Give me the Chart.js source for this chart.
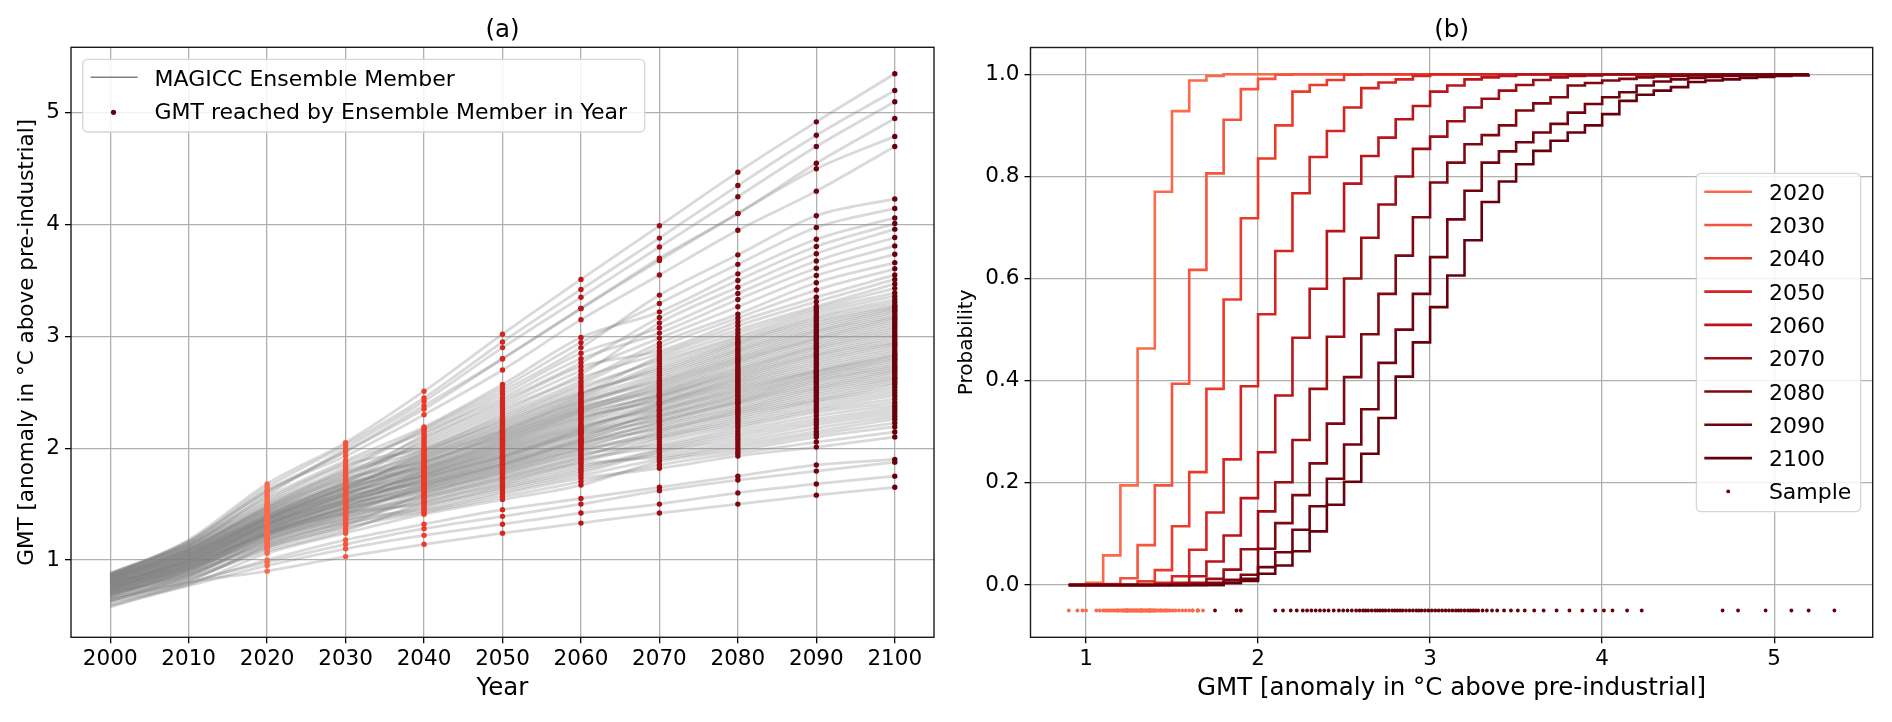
<!DOCTYPE html>
<html><head><meta charset="utf-8">
<script src="https://cdn.jsdelivr.net/npm/chart.js@4.4.1/dist/chart.umd.min.js"></script>
<style>
html,body{margin:0;padding:0;background:#fff;}
#wrap{position:relative;width:1892px;height:722px;overflow:hidden;}
canvas{position:absolute;top:0;}
#ca{left:0;} #cb{left:946px;}
</style></head><body>
<div id="wrap"><canvas id="ca" width="946" height="722"></canvas><canvas id="cb" width="946" height="722"></canvas></div>
<script>
// ---------------- data ----------------
const YEARS = [2000,2010,2020,2030,2040,2050,2060,2070,2080,2090,2100];
const DOT_YEARS = [2020,2030,2040,2050,2060,2070,2080,2090,2100];
const YEAR_TICKS = [2000,2010,2020,2030,2040,2050,2060,2070,2080,2090,2100];
const GMT_TICKS_A = [1,2,3,4,5];
const GMT_TICKS_B = [1,2,3,4,5];
const PROB_TICKS = [0,0.2,0.4,0.6,0.8,1.0];
const SAMPLE_Y = -0.05;

// ensemble members: GMT at YEARS
const MEMBER_GMT = [
  [0.64,0.80,0.90,1.03,1.14,1.24,1.33,1.42,1.50,1.58,1.65],
  [0.70,0.88,1.14,1.33,1.44,1.59,1.73,1.82,1.93,2.01,2.10],
  [0.62,0.78,1.06,1.24,1.41,1.54,1.67,1.88,1.98,2.10,2.19],
  [0.73,0.92,1.19,1.39,1.52,1.69,1.86,1.92,2.03,2.15,2.26],
  [0.66,0.83,1.10,1.28,1.47,1.63,1.78,1.96,2.08,2.21,2.31],
  [0.68,0.90,1.22,1.42,1.50,1.66,1.82,1.99,2.13,2.26,2.36],
  [0.71,0.86,1.12,1.31,1.59,1.77,1.95,2.03,2.18,2.32,2.41],
  [0.65,0.87,1.16,1.35,1.55,1.72,1.89,2.08,2.22,2.36,2.47],
  [0.76,0.95,1.24,1.46,1.61,1.79,1.98,2.11,2.26,2.41,2.52],
  [0.69,0.89,1.18,1.37,1.57,1.74,1.92,2.14,2.30,2.44,2.57],
  [0.72,0.91,1.21,1.41,1.66,1.85,2.05,2.17,2.33,2.48,2.61],
  [0.74,0.96,1.27,1.50,1.63,1.81,2.00,2.20,2.36,2.52,2.64],
  [0.70,0.93,1.23,1.43,1.64,1.83,2.03,2.23,2.40,2.55,2.68],
  [0.78,0.99,1.30,1.53,1.70,1.90,2.12,2.25,2.42,2.59,2.71],
  [0.67,0.92,1.24,1.45,1.67,1.86,2.07,2.28,2.45,2.62,2.74],
  [0.75,0.95,1.25,1.47,1.72,1.92,2.14,2.30,2.48,2.65,2.78],
  [0.77,1.01,1.32,1.57,1.69,1.88,2.09,2.33,2.51,2.68,2.81],
  [0.72,0.94,1.26,1.48,1.76,1.97,2.20,2.35,2.54,2.70,2.84],
  [0.79,0.98,1.28,1.51,1.73,1.93,2.16,2.38,2.57,2.74,2.88],
  [0.74,1.00,1.35,1.60,1.75,1.95,2.18,2.40,2.60,2.78,2.92],
  [0.80,0.99,1.29,1.52,1.80,2.03,2.28,2.42,2.63,2.82,2.95],
  [0.76,0.97,1.31,1.54,1.77,1.99,2.23,2.45,2.66,2.85,2.99],
  [0.81,1.04,1.37,1.64,1.82,2.05,2.31,2.47,2.69,2.89,3.03],
  [0.73,0.98,1.32,1.55,1.79,2.01,2.26,2.49,2.72,2.92,3.07],
  [0.78,1.02,1.33,1.58,1.87,2.11,2.37,2.52,2.76,2.96,3.11],
  [0.84,1.07,1.40,1.68,1.83,2.07,2.33,2.55,2.79,2.99,3.15],
  [0.75,1.01,1.34,1.59,1.85,2.09,2.35,2.58,2.82,3.03,3.18],
  [0.80,1.03,1.36,1.61,1.90,2.15,2.42,2.61,2.86,3.06,3.22],
  [0.86,1.09,1.44,1.73,1.88,2.13,2.40,2.65,2.89,3.10,3.25],
  [0.77,1.02,1.37,1.63,1.96,2.23,2.50,2.69,2.93,3.14,3.28],
  [0.82,1.05,1.38,1.65,1.92,2.17,2.45,2.73,2.96,3.18,3.33],
  [0.85,1.10,1.47,1.78,1.98,2.26,2.55,2.78,3.00,3.23,3.39],
  [0.79,1.04,1.39,1.66,1.94,2.20,2.48,2.82,3.06,3.27,3.47],
  [0.83,1.06,1.41,1.69,2.08,2.40,2.73,2.87,3.13,3.35,3.55],
  [0.87,1.13,1.52,1.85,2.00,2.30,2.60,2.94,3.20,3.48,3.66],
  [0.81,1.08,1.43,1.71,2.12,2.45,2.80,3.03,3.33,3.61,3.81],
  [0.84,1.10,1.46,1.76,2.04,2.35,2.66,3.12,3.44,3.74,3.96],
  [0.88,1.15,1.56,1.89,2.19,2.57,2.99,3.22,3.56,3.87,4.06],
  [0.82,1.09,1.49,1.81,2.16,2.51,2.90,3.37,3.73,4.08,4.23],
  [0.86,1.18,1.68,2.05,2.51,3.02,3.51,3.99,4.47,4.92,5.35],
  [0.85,1.14,1.60,1.97,2.38,2.80,3.25,3.70,4.10,4.55,4.95],
  [0.83,1.12,1.58,2.00,2.42,2.90,3.35,3.80,4.25,4.70,5.10],
  [0.87,1.16,1.62,1.93,2.30,2.70,3.15,3.55,3.95,4.30,4.70],
  [0.88,1.17,1.65,2.03,2.45,2.95,3.42,3.88,4.35,4.80,5.20],
  [0.59,0.77,0.95,1.10,1.22,1.32,1.42,1.50,1.60,1.68,1.75],
  [0.58,0.79,1.00,1.18,1.32,1.45,1.55,1.65,1.75,1.85,1.90],
  [0.60,0.80,0.98,1.14,1.28,1.39,1.50,1.62,1.715,1.795,1.875],
  [0.66,0.82,1.11,1.295,1.425,1.565,1.70,1.85,1.955,2.055,2.145],
  [0.63,0.86,1.17,1.36,1.455,1.61,1.755,1.90,2.005,2.125,2.225],
  [0.69,0.84,1.08,1.26,1.51,1.675,1.84,1.94,2.055,2.18,2.285],
  [0.64,0.81,1.13,1.32,1.485,1.645,1.80,1.975,2.105,2.235,2.335],
  [0.71,0.90,1.215,1.415,1.56,1.73,1.905,2.01,2.155,2.29,2.385],
  [0.67,0.87,1.15,1.34,1.535,1.705,1.875,2.055,2.20,2.34,2.44],
  [0.63,0.85,1.185,1.38,1.58,1.755,1.935,2.095,2.24,2.385,2.495],
  [0.73,0.93,1.24,1.455,1.62,1.80,1.99,2.125,2.28,2.425,2.545],
  [0.70,0.89,1.20,1.40,1.60,1.78,1.965,2.155,2.315,2.46,2.59],
  [0.68,0.91,1.225,1.425,1.635,1.82,2.015,2.185,2.345,2.50,2.625],
  [0.76,0.94,1.265,1.49,1.665,1.855,2.06,2.215,2.38,2.535,2.66],
  [0.72,0.92,1.235,1.44,1.65,1.84,2.04,2.24,2.41,2.57,2.695],
  [0.69,0.95,1.245,1.465,1.68,1.87,2.08,2.265,2.435,2.605,2.725],
  [0.78,0.97,1.295,1.525,1.71,1.91,2.13,2.29,2.465,2.635,2.76],
  [0.74,0.93,1.255,1.475,1.695,1.89,2.105,2.315,2.495,2.665,2.795],
  [0.71,0.96,1.275,1.505,1.725,1.925,2.15,2.34,2.525,2.69,2.825],
  [0.79,1.00,1.32,1.56,1.755,1.96,2.19,2.365,2.555,2.72,2.86],
  [0.75,0.96,1.285,1.515,1.74,1.94,2.17,2.39,2.585,2.76,2.90],
  [0.73,0.98,1.305,1.535,1.765,1.98,2.215,2.41,2.615,2.80,2.935],
  [0.80,1.03,1.345,1.595,1.795,2.02,2.27,2.435,2.645,2.835,2.97],
  [0.77,0.99,1.315,1.545,1.78,2.00,2.245,2.46,2.675,2.87,3.01],
  [0.74,1.00,1.325,1.575,1.81,2.04,2.295,2.48,2.705,2.905,3.05],
  [0.82,1.05,1.37,1.635,1.84,2.08,2.34,2.505,2.74,2.94,3.09],
  [0.78,1.01,1.335,1.585,1.825,2.06,2.32,2.535,2.775,2.975,3.13],
  [0.76,1.03,1.355,1.605,1.86,2.10,2.36,2.565,2.805,3.01,3.165],
  [0.84,1.07,1.395,1.67,1.89,2.14,2.41,2.595,2.84,3.045,3.20],
  [0.79,1.04,1.365,1.62,1.875,2.12,2.385,2.63,2.875,3.08,3.235],
  [0.81,1.05,1.375,1.645,1.91,2.16,2.435,2.67,2.91,3.12,3.265],
  [0.85,1.09,1.435,1.72,1.95,2.215,2.49,2.71,2.945,3.16,3.305],
  [0.80,1.06,1.385,1.655,1.93,2.185,2.465,2.755,2.98,3.205,3.36],
  [0.83,1.08,1.405,1.685,1.97,2.245,2.525,2.80,3.03,3.25,3.43],
  [0.86,1.12,1.48,1.795,2.02,2.325,2.63,2.845,3.095,3.31,3.51],
  [0.82,1.07,1.42,1.70,1.99,2.28,2.575,2.905,3.165,3.415,3.605],
  [0.84,1.10,1.45,1.745,2.06,2.375,2.695,2.985,3.265,3.545,3.735],
  [0.87,1.14,1.54,1.87,2.14,2.48,2.85,3.075,3.385,3.675,3.885],
  [0.85,1.11,1.465,1.77,2.10,2.425,2.765,3.17,3.50,3.805,4.01],
  [0.88,1.13,1.505,1.83,2.175,2.54,2.945,3.295,3.645,3.975,4.145],
  [0.86,1.16,1.62,1.97,2.35,2.80,3.25,3.68,4.10,4.50,4.79]
];

// empirical CDFs (panel b), evaluated on GMT_GRID
const GMT_GRID = [0.9,1.0,1.1,1.2,1.3,1.4,1.5,1.6,1.7,1.8,1.9,2.0,2.1,2.2,2.3,2.4,2.5,2.6,2.7,2.8,2.9,3.0,3.1,3.2,3.3,3.4,3.5,3.6,3.7,3.8,3.9,4.0,4.1,4.2,4.3,4.4,4.5,4.6,4.7,4.8,4.9,5.0,5.1,5.2];
const CDF_2020 = [0,0.004,0.058,0.195,0.463,0.770,0.928,0.988,0.997, 1,1,1,1,1, 1,1,1,1,1, 1,1,1,1,1, 1,1,1,1,1, 1,1,1,1,1, 1,1,1,1,1, 1,1,1,1,1];
const CDF_2030 = [0,0,0.002,0.013,0.078,0.195,0.394,0.617,0.806,0.911,0.971,0.991,0.999, 1,1,1,1,1, 1,1,1,1,1, 1,1,1,1,1, 1,1,1,1,1, 1,1,1,1,1, 1,1,1,1,1, 1];
const CDF_2040 = [0,0,0,0,0.007,0.029,0.115,0.221,0.384,0.559,0.718,0.835,0.900,0.966,0.979,0.989,0.999, 1,1,1,1,1, 1,1,1,1,1, 1,1,1,1,1, 1,1,1,1,1, 1,1,1,1,1, 1,1];
const CDF_2050 = [0,0,0,0,0,0.004,0.017,0.069,0.142,0.246,0.389,0.530,0.654,0.767,0.838,0.889,0.935,0.973,0.984,0.990,0.997, 1,1,1,1,1, 1,1,1,1,1, 1,1,1,1,1, 1,1,1,1,1, 1,1,1];
const CDF_2060 = [0,0,0,0,0,0,0.004,0.017,0.046,0.097,0.170,0.260,0.371,0.484,0.580,0.693,0.786,0.840,0.876,0.912,0.938,0.966,0.978,0.990,0.994,0.997, 1,1,1,1,1, 1,1,1,1,1, 1,1,1,1,1, 1,1,1];
const CDF_2070 = [0,0,0,0,0,0,0,0.004,0.012,0.030,0.070,0.144,0.201,0.284,0.384,0.486,0.600,0.680,0.745,0.800,0.854,0.878,0.908,0.935,0.952,0.968,0.979,0.989,0.994,0.997,0.998, 1,1,1,1,1, 1,1,1,1,1, 1,1,1];
const CDF_2080 = [0,0,0,0,0,0,0,0,0.004,0.010,0.020,0.071,0.121,0.176,0.238,0.316,0.407,0.491,0.570,0.645,0.720,0.788,0.827,0.863,0.881,0.900,0.929,0.943,0.955,0.978,0.983,0.988,0.991,0.994,0.996,0.997,0.998,0.999, 1,1,1,1,1,1];
const CDF_2090 = [0,0,0,0,0,0,0,0,0,0.004,0.012,0.035,0.064,0.108,0.154,0.208,0.275,0.344,0.435,0.500,0.570,0.642,0.716,0.772,0.827,0.849,0.867,0.886,0.903,0.925,0.942,0.955,0.965,0.978,0.986,0.990,0.993,0.995,0.997,0.998,0.999, 1,1,1];
const CDF_2100 = [0,0,0,0,0,0,0,0,0,0.004,0.008,0.022,0.038,0.066,0.105,0.157,0.202,0.257,0.327,0.408,0.475,0.544,0.606,0.675,0.750,0.790,0.824,0.850,0.870,0.886,0.900,0.922,0.948,0.960,0.968,0.975,0.985,0.988,0.990,0.993,0.995,0.997,0.998, 1];
const CDF_BY_YEAR = [CDF_2020,CDF_2030,CDF_2040,CDF_2050,CDF_2060,CDF_2070,CDF_2080,CDF_2090,CDF_2100];
const SAMPLE_YEARS = [2020, 2100];

const YEAR_COLORS = ['#fb6a4a','#f5533b','#ec3a2b','#d42520','#bb141a','#9c0d14','#7f0711','#70030f','#67000d'];
const LEGEND_A = ['MAGICC Ensemble Member','GMT reached by Ensemble Member in Year'];
const TITLES = ['(a)','(b)'];
const AXIS_TITLES = {ax:'Year', ay:'GMT [anomaly in °C above pre-industrial]', bx:'GMT [anomaly in °C above pre-industrial]', by:'Probability'};

// ---------------- helpers ----------------
const FAM = '"DejaVu Sans", sans-serif';
const font = s => ({family: FAM, size: s});
function roundBox(ctx, x, y, w, h, r){
  ctx.beginPath();
  ctx.moveTo(x+r,y); ctx.lineTo(x+w-r,y); ctx.arcTo(x+w,y,x+w,y+r,r);
  ctx.lineTo(x+w,y+h-r); ctx.arcTo(x+w,y+h,x+w-r,y+h,r);
  ctx.lineTo(x+r,y+h); ctx.arcTo(x,y+h,x,y+h-r,r);
  ctx.lineTo(x,y+r); ctx.arcTo(x,y,x+r,y,r); ctx.closePath();
}
function legendBox(ctx,x,y,w,h){
  roundBox(ctx,x,y,w,h,5);
  ctx.fillStyle='rgba(255,255,255,0.85)'; ctx.fill();
  ctx.strokeStyle='#d6d6d6'; ctx.lineWidth=1.3; ctx.stroke();
}
function decor(title, titleX, drawLegend){
  return {
    id:'decor',
    afterDatasetsDraw(chart){
      const {ctx, chartArea:a} = chart;
      ctx.save();
      ctx.strokeStyle='#1a1a1a'; ctx.lineWidth=1.4;
      ctx.strokeRect(a.left, a.top, a.right-a.left, a.bottom-a.top);
      drawLegend(ctx, chart);
      ctx.fillStyle='#000'; ctx.font='24.5px '+FAM; ctx.textAlign='center'; ctx.textBaseline='middle';
      ctx.fillText(title, titleX, 31);
      ctx.restore();
    }
  };
}
function xScale(min,max,ticks,fmt,title,h){
  return {
    type:'linear', min, max, bounds:'data',
    afterBuildTicks: s => { s.ticks = ticks.map(v=>({value:v})); },
    afterFit: s => { s.height = h; },
    ticks:{font:font(21.5), color:'#000', padding:3, maxRotation:0, autoSkip:false, callback: fmt},
    grid:{color:'#b0b0b0', lineWidth:1.3, tickColor:'#000', tickLength:6, tickWidth:1.3},
    border:{display:false},
    title:{display:true, text:title, color:'#000', font:font(24.5), padding:{top:0,bottom:18.6}}
  };
}
function yScale(min,max,ticks,fmt,title,w,fs,pt){
  return {
    type:'linear', min, max, bounds:'data',
    afterBuildTicks: s => { s.ticks = ticks.map(v=>({value:v})); },
    afterFit: s => { s.width = w; },
    ticks:{font:font(21.5), color:'#000', padding:5, autoSkip:false, callback: fmt},
    grid:{color:'#b0b0b0', lineWidth:1.3, tickColor:'#000', tickLength:6, tickWidth:1.3},
    border:{display:false},
    title:{display:true, text:title, color:'#000', font:font(fs), padding:{top:pt,bottom:0}}
  };
}

// ---------------- panel (a) ----------------
const memberSets = MEMBER_GMT.map(row => ({
  type:'line', order:5,
  data: YEARS.map((yr,i)=>({x:yr, y:row[i]})),
  borderColor:'rgba(128,128,128,0.3)', borderWidth:2.8,
  pointRadius:0, fill:false, cubicInterpolationMode:'monotone'
}));
const dotSets = DOT_YEARS.map((yr,k) => {
  const idx = YEARS.indexOf(yr);
  return {
    type:'scatter', order:1,
    data: MEMBER_GMT.map(row=>({x:yr, y:row[idx]})),
    backgroundColor:YEAR_COLORS[k], borderWidth:0, pointRadius:2.7
  };
});

new Chart(document.getElementById('ca'), {
  type:'line',
  data:{datasets:[...memberSets, ...dotSets]},
  options:{
    responsive:false, animation:false, devicePixelRatio:1, events:[],
    layout:{padding:{left:0, top:47.3, right:12, bottom:0}},
    plugins:{legend:{display:false}, tooltip:{enabled:false}, title:{display:false}},
    scales:{
      x: xScale(1995, 2105, YEAR_TICKS, v=>String(v), AXIS_TITLES.ax, 84.7),
      y: yScale(0.308, 5.587, GMT_TICKS_A, v=>String(v), AXIS_TITLES.ay, 71, 21.5, 14.4)
    }
  },
  plugins:[decor(TITLES[0], 502.5, (ctx)=>{
    legendBox(ctx, 82.7, 59.3, 562.1, 72.7);
    ctx.strokeStyle='#808080'; ctx.lineWidth=1.6;
    ctx.beginPath(); ctx.moveTo(90.6,77.3); ctx.lineTo(137.6,77.3); ctx.stroke();
    ctx.fillStyle=YEAR_COLORS[8];
    ctx.beginPath(); ctx.arc(113.5,112.3,2.6,0,Math.PI*2); ctx.fill();
    ctx.fillStyle='#000'; ctx.font='22px '+FAM; ctx.textAlign='left'; ctx.textBaseline='alphabetic';
    ctx.fillText(LEGEND_A[0], 154.5, 85.8);
    ctx.fillText(LEGEND_A[1], 154.5, 118.8);
  })]
});

// ---------------- panel (b) ----------------
const stepSets = DOT_YEARS.map((yr,k)=>({
  type:'line', order:20-k, label:String(yr),
  data: GMT_GRID.map((g,i)=>({x:g, y:CDF_BY_YEAR[k][i]})),
  borderColor:YEAR_COLORS[k], borderWidth:2.6, pointRadius:0, fill:false, stepped:'before'
}));
const sampleSets = SAMPLE_YEARS.map(yr=>{
  const idx = YEARS.indexOf(yr), k = DOT_YEARS.indexOf(yr);
  return {
    type:'scatter', order:1,
    data: MEMBER_GMT.map(row=>({x:row[idx], y:SAMPLE_Y})),
    backgroundColor:YEAR_COLORS[k], borderWidth:0, pointRadius:1.9
  };
});

new Chart(document.getElementById('cb'), {
  type:'line',
  data:{datasets:[...stepSets, ...sampleSets]},
  options:{
    responsive:false, animation:false, devicePixelRatio:1, events:[],
    layout:{padding:{left:0, top:47.5, right:19.3, bottom:0}},
    plugins:{legend:{display:false}, tooltip:{enabled:false}, title:{display:false}},
    scales:{
      x: xScale(0.6775, 5.5725, GMT_TICKS_B, v=>String(v), AXIS_TITLES.bx, 84.7),
      y: yScale(-0.1025, 1.0525, PROB_TICKS, v=>v.toFixed(1), AXIS_TITLES.by, 84.5, 20, 9)
    }
  },
  plugins:[decor(TITLES[1], 505.6, (ctx)=>{
    legendBox(ctx, 750.4, 173.3, 164.2, 338.4);
    ctx.font='22px '+FAM; ctx.textAlign='left'; ctx.textBaseline='alphabetic';
    DOT_YEARS.forEach((yr,k)=>{
      const y = 191.7 + k*33.3;
      ctx.strokeStyle=YEAR_COLORS[k]; ctx.lineWidth=2.6;
      ctx.beginPath(); ctx.moveTo(758.3,y); ctx.lineTo(806,y); ctx.stroke();
      ctx.fillStyle='#000'; ctx.fillText(String(yr), 822.9, y+8);
    });
    const ys = 191.7 + 9*33.3;
    ctx.fillStyle=YEAR_COLORS[8];
    ctx.beginPath(); ctx.arc(782.2, ys, 1.9, 0, Math.PI*2); ctx.fill();
    ctx.fillStyle='#000'; ctx.fillText('Sample', 822.9, ys+8);
  })]
});
</script>
</body></html>
